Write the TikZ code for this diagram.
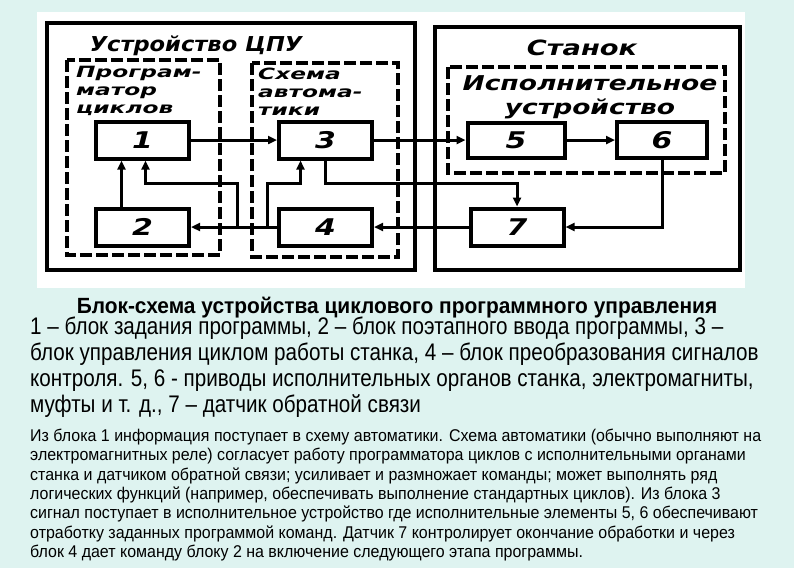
\documentclass[tikz,border=0pt]{standalone}
\usepackage{fontspec}
\setmainfont{Liberation Sans}
\newfontfamily\titlefont{Liberation Sans}[FakeStretch=0.95]
\newfontfamily\legendfont{Liberation Sans}[FakeStretch=0.86]
\newfontfamily\descrfont{Liberation Sans}[FakeStretch=0.94]
\newfontfamily\gostfont{DejaVu Sans}[FakeStretch=1.3]
\newfontfamily\gostwide{DejaVu Sans}[FakeStretch=1.5]
\newfontfamily\gosthead{DejaVu Sans}[FakeStretch=1.1]
\usepackage{tikz}
\usetikzlibrary{arrows.meta, calc}
\definecolor{bgcyan}{RGB}{222,243,240}

\begin{document}
\begin{tikzpicture}[
    x=1pt, y=-1pt,
    >={Triangle[length=9pt, width=8pt]},
    frame/.style={draw=black, line width=4.5pt},
    group/.style={draw=black, line width=3.5pt, dash pattern=on 12pt off 4pt},
    block/.style={rectangle, draw=black, line width=4pt, fill=white, minimum width=#1, minimum height=37pt, font=\gostfont\fontsize{23}{23}\selectfont\bfseries\itshape},
    block/.default=93pt,
    wire/.style={line width=3pt},
    gost/.style={font=\gostfont\fontsize{#1}{#1}\selectfont\bfseries\itshape, inner sep=0pt},
    gost/.default=20,
    sublabel/.style={font=\gostwide\fontsize{15.5}{18}\selectfont\bfseries\itshape, inner sep=0pt, anchor=north west, align=left}
]
% Background and white panel
\fill[bgcyan] (0,0) rectangle (794,568);
\fill[white] (37,12) rectangle (745,288);

% Device frames
\draw[frame] (47,23) rectangle (415,270);
\draw[frame] (435,27) rectangle (740,270);
\node[font=\gosthead\fontsize{20.5}{20.5}\selectfont\bfseries\itshape, inner sep=0pt, anchor=base] (cpu) at (196,51) {Устройство ЦПУ};
\node[gost=21, anchor=base] (stanok) at (582,55) {Станок};

% Dashed groups
\draw[group] (67,60) rectangle (220,255);
\draw[group] (252,63) rectangle (398,257);
\draw[group] (448,67) rectangle (725,173);
\node[sublabel] (prog) at (76,66) {Програм-\\матор\\циклов};
\node[sublabel] (avt) at (258,68) {Схема\\автома-\\тики};
\node[gost=20.4, anchor=north, align=center] (isp) at (590,75) {Исполнительное\\[4pt]устройство};

% Blocks
\node[block] (b1) at (142.5,140) {1};
\node[block] (b2) at (142.5,227) {2};
\node[block] (b3) at (325.5,140) {3};
\node[block] (b4) at (325.5,227) {4};
\node[block=97pt, minimum height=35pt] (b5) at (516,140) {5};
\node[block=90pt, minimum height=36pt] (b6) at (662,140) {6};
\node[block] (b7) at (517,227) {7};

% Junctions on the feedback line
\coordinate (bus) at (0,183);
\coordinate (ja) at (237,227);
\coordinate (jb) at (267,227);
\coordinate (in1) at ([xshift=3pt]b1.south);
\coordinate (in3) at ([xshift=-25pt]b3.south);

% Connectors
\draw[wire, ->] (b1) -- (b3);
\draw[wire, ->] (b3) -- (b5);
\draw[wire, ->] (b5) -- (b6);
\draw[wire, ->] (b3.south) -- (b3.south |- bus) -| (b7.north);
\draw[wire, ->] (b6.south) |- (b7.east);
\draw[wire, ->] (b7) -- (b4);
\draw[wire, ->] (b4) -- (b2);
\draw[wire, ->] (ja) |- (bus -| in1) -- (in1);
\draw[wire, ->] (jb) |- (bus -| in3) -- (in3);
\draw[wire, ->] ([xshift=-21pt]b2.north) -- ([xshift=-21pt]b1.south);

% Captions
\node[font=\titlefont\fontsize{22}{22}\selectfont\bfseries, anchor=base] (title) at (397,313)
    {Блок-схема устройства циклового программного управления};
\node[font=\legendfont\fontsize{24}{26}\selectfont, anchor=north west, align=left, inner sep=0pt] (legend) at (30,317)
    {1 – блок задания программы, 2 – блок поэтапного ввода программы, 3 –\\
     блок управления циклом работы станка, 4 – блок преобразования сигналов\\
     контроля. 5, 6 - приводы исполнительных органов станка, электромагниты,\\
     муфты и т. д., 7 – датчик обратной связи};
\node[font=\descrfont\fontsize{17}{19.3}\selectfont, anchor=north west, align=left, inner sep=0pt] (descr) at (30,429)
    {Из блока 1 информация поступает в схему автоматики. Схема автоматики (обычно выполняют на\\
     электромагнитных реле) согласует работу программатора циклов с исполнительными органами\\
     станка и датчиком обратной связи; усиливает и размножает команды; может выполнять ряд\\
     логических функций (например, обеспечивать выполнение стандартных циклов). Из блока 3\\
     сигнал поступает в исполнительное устройство где исполнительные элементы 5, 6 обеспечивают\\
     отработку заданных программой команд. Датчик 7 контролирует окончание обработки и через\\
     блок 4 дает команду блоку 2 на включение следующего этапа программы.};
\end{tikzpicture}
\end{document}
